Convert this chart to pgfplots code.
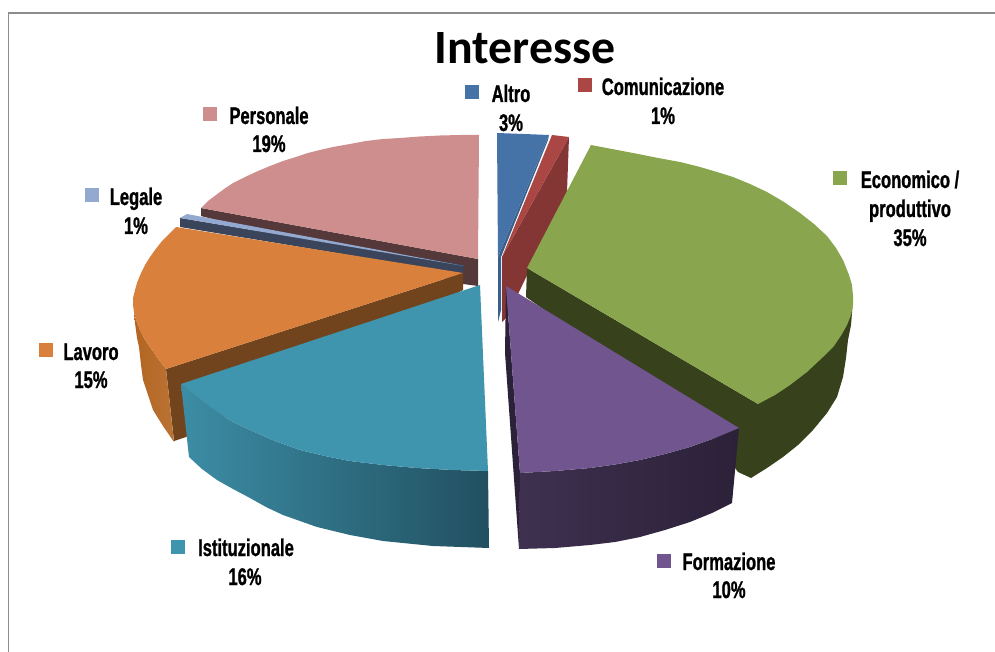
\documentclass[border=0pt]{standalone}
\usepackage{fontspec}
\setmainfont{Carlito}
\newfontfamily\lab[FakeStretch=0.69,FakeBold=1.0]{Liberation Sans Bold}
\usepackage{pgfplots}
\pgfplotsset{compat=1.18}

\definecolor{altro}{HTML}{4572A7}
\definecolor{altrod}{HTML}{3A5F8C}
\definecolor{comu}{HTML}{AA4643}
\definecolor{comud}{HTML}{843634}
\definecolor{econ}{HTML}{89A54E}
\definecolor{econd}{HTML}{37411C}
\definecolor{form}{HTML}{70558F}
\definecolor{formd}{HTML}{2B2138}
\definecolor{formm}{HTML}{3F3050}
\definecolor{ist}{HTML}{3F94AE}
\definecolor{istd}{HTML}{215060}
\definecolor{lav}{HTML}{D8803C}
\definecolor{lavd}{HTML}{71441D}
\definecolor{lavm}{HTML}{BA7335}
\definecolor{leg}{HTML}{93A9CF}
\definecolor{legd}{HTML}{3A455B}
\definecolor{pers}{HTML}{CF8E8E}
\definecolor{persd}{HTML}{55383A}

\begin{document}
\begin{tikzpicture}
\useasboundingbox (0,0) rectangle (995pt,652pt);
\begin{axis}[
    hide axis,
    scale only axis,
    width=995pt, height=652pt,
    xmin=0, xmax=995, ymin=0, ymax=652,
    y dir=reverse,
    clip=true,
    every axis plot/.append style={draw=none, line width=0pt},
    key/.style={only marks, mark=square*, mark size=6.5pt, mark options={draw=#1, fill=#1, line width=0pt}},
]
% frame
\addplot[draw=gray!90, line width=1.6pt, mark=none] coordinates {(8.5,652) (8.5,13) (995,13)};

% personale
\addplot[fill=persd, mark=none] coordinates {(201,208) (478,259) (478,286) (463,284) (201,216)};
\addplot[fill=pers, mark=none] coordinates {(201,208) (208,201) (216,195) (224,189) (233,183) (245,177) (258,171) (270,166) (283,161) (296,157) (308,153) (320,150) (333,147) (350,144) (366,141) (383,139) (400,138) (420,136.5) (440,135.5) (460,135) (479,135) (478,259)};

% legale
\addplot[fill=legd, mark=none] coordinates {(180,218) (180,227) (463,274) (464,265)};
\addplot[fill=leg, mark=none] coordinates {(180,218) (187,214) (464,266)};

% lavoro
\addplot[fill=lavd, mark=none] coordinates {(463,273) (166,369) (174,441) (186,437) (463,290)};
\addplot[left color=lavm!110, right color=lavm, mark=none] coordinates {(134,312) (135,323) (137,338) (139,347) (141,365) (143,380) (148,395) (153,410) (163,426) (174,442) (166,369) (159,360) (152,350) (145,340) (140,330) (136,320)};
\addplot[fill=lav, mark=none] coordinates {(463,273) (176,227) (168,235) (162,241) (155,250) (150,257) (145,265) (141,273) (137,283) (135,290) (133,298) (133,305) (134,312) (136,320) (140,330) (145,340) (152,350) (159,360) (166,369)};

% istituzionale
\addplot[left color=ist!95!black, right color=istd, mark=none] coordinates {(181,384) (189,457) (202,469) (217,480) (233,489) (250,498) (266,507) (283,515) (300,521) (317,527) (350,535) (383,541) (433,546) (489,548) (488,471) (452,470) (417,468) (383,465) (350,461) (325,456) (300,450) (275,441) (250,430) (233,422) (217,412) (198,398)};
\addplot[fill=ist, mark=none] coordinates {(480,285) (181,384) (198,398) (217,412) (233,422) (250,430) (275,441) (300,450) (325,456) (350,461) (383,465) (417,468) (452,470) (488,471)};

% altro
\addplot[fill=altrod, mark=none] coordinates {(549,135) (498,257) (498,322) (501,310) (501,257) (548,140)};
\addplot[fill=altro, mark=none] coordinates {(497,133) (524,134) (549,135) (498,257)};

% comunicazione
\addplot[fill=comud, mark=none] coordinates {(569,137) (567,192) (507,317) (502,322) (502,257)};
\addplot[fill=comu, mark=none] coordinates {(552,135) (569,137) (502,257)};

% economico
\addplot[fill=econd, mark=none] coordinates {(527,268) (526,297) (700,420) (738,472) (751,478) (767,468) (783,457) (798,445) (813,430) (827,413) (837,397) (843,377) (846,358) (848,340) (851,325) (852,313) (853,298) (758,404)};
\addplot[fill=econ, mark=none] coordinates {(591,145) (612,149) (633,153) (658,158) (680,162) (700,167) (717,172) (733,177) (750,184) (767,192) (784,202) (800,213) (814,224) (827,236) (836,248) (843,260) (849,275) (852,285) (853,296) (853,305) (851,315) (847,325) (842,334) (834,346) (823,357) (807,372) (790,385) (775,395) (758,404) (527,268)};

% formazione
\addplot[fill=formd, mark=none] coordinates {(506,286) (520,473) (519,549) (505,353)};
\addplot[left color=formm, right color=formd, mark=none] coordinates {(520,473) (519,549) (555,548) (590,545) (615,542) (640,537) (665,530) (690,522) (712,513) (732,503) (739,428) (715,438) (690,447) (665,454) (640,460) (615,464.5) (590,468) (555,471)};
\addplot[fill=form, mark=none] coordinates {(506,286) (739,428) (715,438) (690,447) (665,454) (640,460) (615,464.5) (590,468) (555,471) (520,473)};

% legend keys
\addplot[key=altro] coordinates {(471.5,92.5)};
\addplot[key=comu] coordinates {(584.5,85.5)};
\addplot[key=econ] coordinates {(839.5,178.5)};
\addplot[key=form] coordinates {(663.5,560.5)};
\addplot[key=ist] coordinates {(177.5,546.5)};
\addplot[key=lav] coordinates {(45.5,349.5)};
\addplot[key=leg] coordinates {(91.5,195.5)};
\addplot[key=pers] coordinates {(209.5,114.5)};

% title and labels
\node[anchor=base, font=\fontsize{47.8}{47.8}\selectfont\bfseries] at (axis cs:525,64) {Interesse};
\tikzset{lbl/.style={anchor=base, font=\lab\fontsize{24}{24}\selectfont}}
\node[lbl] at (axis cs:511,102) {Altro};
\node[lbl] at (axis cs:511,131) {3\%};
\node[lbl] at (axis cs:663,95) {Comunicazione};
\node[lbl] at (axis cs:663,124) {1\%};
\node[lbl] at (axis cs:910,188) {Economico /};
\node[lbl] at (axis cs:910,217) {produttivo};
\node[lbl] at (axis cs:910,246) {35\%};
\node[lbl] at (axis cs:729,570) {Formazione};
\node[lbl] at (axis cs:729,598) {10\%};
\node[lbl] at (axis cs:246,556) {Istituzionale};
\node[lbl] at (axis cs:245,585) {16\%};
\node[lbl] at (axis cs:91,360) {Lavoro};
\node[lbl] at (axis cs:91,388) {15\%};
\node[lbl] at (axis cs:136,205) {Legale};
\node[lbl] at (axis cs:136,234) {1\%};
\node[lbl] at (axis cs:269,124) {Personale};
\node[lbl] at (axis cs:269,152) {19\%};
\end{axis}
\end{tikzpicture}
\end{document}
